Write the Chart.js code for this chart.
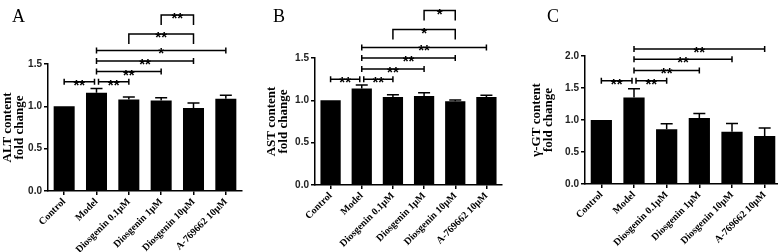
<!DOCTYPE html>
<html>
<head>
<meta charset="utf-8">
<script src="https://cdn.jsdelivr.net/npm/chart.js@4"></script>
<style>
  html, body { margin: 0; padding: 0; background: #fff; overflow: hidden; }
  body { width: 778px; height: 252px; position: relative; }
  canvas { position: absolute; top: 0; }
</style>
</head>
<body>
<canvas id="chartA" style="left:0px"></canvas>
<canvas id="chartB" style="left:260px"></canvas>
<canvas id="chartC" style="left:518px"></canvas>
<script>
const categories = ["Control", "Model", "Diosgenin 0.1μM", "Diosgenin 1μM", "Diosgenin 10μM", "A-769662 10μM"];

const altMean = [1.00, 1.16, 1.08, 1.07, 0.98, 1.09];
const altErr  = [0.00, 0.05, 0.03, 0.03, 0.06, 0.04];
const astMean = [1.00, 1.14, 1.04, 1.05, 0.99, 1.04];
const astErr  = [0.00, 0.04, 0.025, 0.04, 0.015, 0.02];
const ggtMean = [1.00, 1.35, 0.855, 1.03, 0.815, 0.75];
const ggtErr  = [0.00, 0.14, 0.085, 0.07, 0.13, 0.125];

// significance brackets: [from, to, level, label, style]
const altSig = [
  [0, 1, 1.29, "**", "cap"], [1, 2, 1.29, "**", "cap"], [1, 3, 1.41, "**", "cap"],
  [1, 4, 1.535, "**", "cap"], [1, 5, 1.66, "*", "cap"],
  [2, 4, 1.855, "**", "drop"], [3, 4, 2.08, "**", "drop"]
];
const astSig = [
  [0, 1, 1.25, "**", "cap"], [1, 2, 1.25, "**", "cap"], [1, 3, 1.37, "**", "cap"],
  [1, 4, 1.50, "**", "cap"], [1, 5, 1.625, "**", "cap"],
  [2, 4, 1.836, "*", "drop"], [3, 4, 2.06, "*", "drop"]
];
const ggtSig = [
  [0, 1, 1.614, "**", "cap"], [1, 2, 1.614, "**", "cap"], [1, 3, 1.775, "**", "cap"],
  [1, 4, 1.948, "**", "cap"], [1, 5, 2.11, "**", "cap"]
];

const extras = {
  id: "extras",
  afterDraw(chart, args, opts) {
    const ctx = chart.ctx;
    const x = chart.scales.x, y = chart.scales.y;
    ctx.save();
    ctx.strokeStyle = "#000";
    ctx.fillStyle = "#000";
    ctx.lineWidth = 1.5;

    // error bars (upper half only)
    const meta = chart.getDatasetMeta(0);
    meta.data.forEach((bar, i) => {
      const e = opts.errors[i];
      if (!e) return;
      const top = y.getPixelForValue(opts.means[i] + e);
      ctx.beginPath();
      ctx.moveTo(bar.x, bar.y);
      ctx.lineTo(bar.x, top);
      ctx.moveTo(bar.x - 6, top);
      ctx.lineTo(bar.x + 6, top);
      ctx.stroke();
    });

    // significance brackets
    ctx.font = "bold 15px 'Liberation Sans', Arial, sans-serif";
    ctx.textAlign = "center";
    ctx.textBaseline = "alphabetic";
    opts.sig.forEach(([a, b, lvl, label, style]) => {
      let x1 = x.getPixelForValue(a), x2 = x.getPixelForValue(b);
      opts.sig.forEach(o => {
        if (o[2] !== lvl) return;
        if (o[1] === a) x1 += 2;
        if (o[0] === b) x2 -= 2;
      });
      const py = y.getPixelForValue(lvl);
      ctx.beginPath();
      if (style === "drop") {
        ctx.moveTo(x1, py + 10);
        ctx.lineTo(x1, py);
        ctx.lineTo(x2, py);
        ctx.lineTo(x2, py + 10);
      } else {
        ctx.moveTo(x1, py);
        ctx.lineTo(x2, py);
        ctx.moveTo(x1, py - 3);
        ctx.lineTo(x1, py + 3);
        ctx.moveTo(x2, py - 3);
        ctx.lineTo(x2, py + 3);
      }
      ctx.stroke();
      ctx.fillText(label, (x1 + x2) / 2, py + 8);
    });

    // panel letter
    ctx.font = "18px 'Liberation Serif', 'Times New Roman', serif";
    ctx.textAlign = "left";
    ctx.fillText(opts.letter, opts.letterX, 22);
    ctx.restore();
  }
};

function makePanel(id, w, geom, letter, yTitle, means, errs, yMax, sig) {
  const canvas = document.getElementById(id);
  canvas.style.width = w + "px";
  canvas.style.height = "252px";
  canvas.width = w;
  canvas.height = 252;
  new Chart(canvas, {
    type: "bar",
    data: {
      labels: categories,
      datasets: [{
        data: means,
        backgroundColor: "#000",
        borderWidth: 0,
        barPercentage: 0.65,
        categoryPercentage: 1.0
      }]
    },
    options: {
      responsive: false,
      animation: false,
      layout: { padding: { top: geom.top, right: geom.right, left: 0, bottom: 0 } },
      plugins: {
        legend: { display: false },
        tooltip: { enabled: false },
        extras: { letter: letter, letterX: geom.letterX, means: means, errors: errs, sig: sig }
      },
      scales: {
        x: {
          afterFit: s => { s.height = geom.xh; },
          grid: { drawOnChartArea: false, drawTicks: true, tickLength: 4, color: "#000", lineWidth: 1.5, offset: false },
          border: { color: "#000", width: 1.5 },
          ticks: {
            autoSkip: false, minRotation: 45, maxRotation: 45, padding: 1,
            color: "#000",
            font: { family: "'Liberation Serif', 'Times New Roman', serif", size: 10, weight: "bold" }
          }
        },
        y: {
          min: 0, max: yMax,
          afterFit: s => { s.width = geom.yw; },
          grid: { drawOnChartArea: false, drawTicks: true, tickLength: 4, color: "#000", lineWidth: 1.5 },
          border: { color: "#000", width: 1.5 },
          ticks: {
            stepSize: 0.5, padding: 2, color: "#222",
            callback: v => v.toFixed(1),
            font: { family: "'Liberation Sans', Arial, sans-serif", size: 10, weight: "bold" }
          },
          title: {
            display: true, text: yTitle, color: "#000",
            padding: { top: geom.tp, bottom: 0 },
            font: { family: "'Liberation Serif', 'Times New Roman', serif", size: 13, weight: "bold", lineHeight: 0.9 }
          }
        }
      }
    },
    plugins: [extras]
  });
}

makePanel("chartA", 260, { top: 64, right: 18, xh: 61, yw: 48, tp: 2, letterX: 12 },
  "A", ["ALT content", "fold change"], altMean, altErr, 1.5, altSig);
makePanel("chartB", 258, { top: 58, right: 16, xh: 67, yw: 55, tp: 6, letterX: 13 },
  "B", ["AST content", "fold change"], astMean, astErr, 1.5, astSig);
makePanel("chartC", 264, { top: 56, right: 1, xh: 68, yw: 67, tp: 13, letterX: 29 },
  "C", ["γ-GT content", "fold change"], ggtMean, ggtErr, 2.0, ggtSig);
</script>
</body>
</html>
